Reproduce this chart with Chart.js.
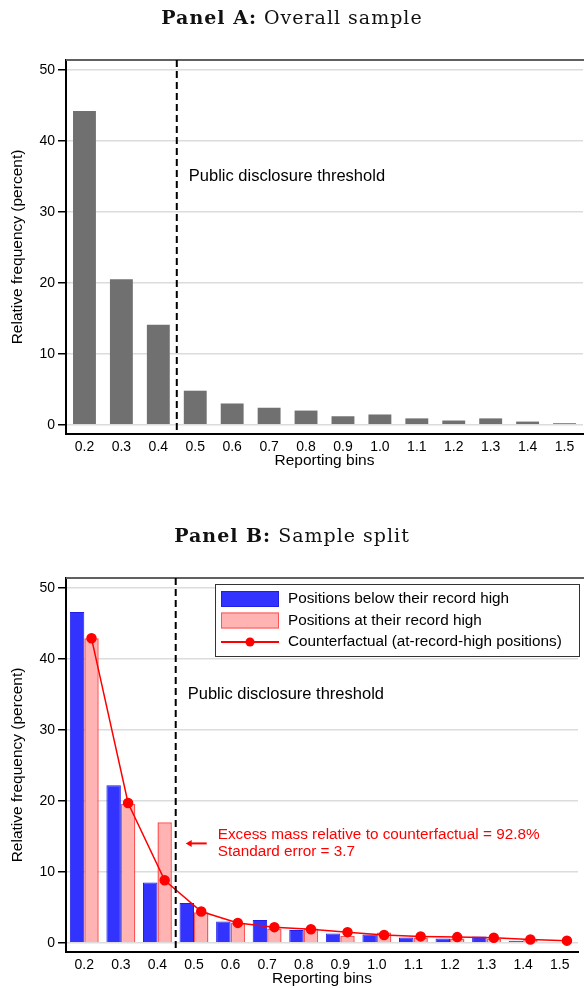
<!DOCTYPE html>
<html>
<head>
<meta charset="utf-8">
<script src="https://cdn.jsdelivr.net/npm/chart.js@4.4.0/dist/chart.umd.min.js"></script>
<style>
  body { margin: 0; background: #fff; }
  .panel { position: relative; width: 584px; height: 494px; }
  .panel .box { position: absolute; left: 0; top: 0; width: 584px; height: 494px; }
  .title {
    position: absolute; left: 0; width: 584px; text-align: center; z-index: 2;
    font-family: "DejaVu Serif", "Liberation Serif", serif; font-size: 19px; line-height: 22px;
    letter-spacing: 1px; color: #111;
  }
</style>
</head>
<body>
<div class="panel">
  <div class="title" style="top:6px"><b>Panel A:</b> Overall sample</div>
  <div class="box"><canvas id="chartA"></canvas></div>
</div>
<div class="panel">
  <div class="title" style="top:30px"><b>Panel B:</b> Sample split</div>
  <div class="box"><canvas id="chartB"></canvas></div>
</div>
<script>
/* ── data ── */
const binLabels = ["0.2", "0.3", "0.4", "0.5", "0.6", "0.7", "0.8", "0.9", "1.0", "1.1", "1.2", "1.3", "1.4", "1.5"];
const overallFreq = [44.2, 20.5, 14.1, 4.8, 3.0, 2.4, 2.0, 1.2, 1.45, 0.9, 0.6, 0.9, 0.45, 0.22];
const belowHighFreq = [46.6, 22.2, 8.5, 5.6, 3.0, 3.2, 1.8, 1.3, 1.15, 0.75, 0.6, 0.9, 0.3, 0.1];
const atHighFreq = [42.9, 19.6, 17.0, 4.3, 2.8, 2.0, 2.0, 1.0, 1.45, 0.75, 0.6, 0.55, 0.45, 0.1];
const counterfactualFreq = [42.9, 19.7, 8.8, 4.4, 2.8, 2.2, 1.9, 1.5, 1.1, 0.9, 0.8, 0.7, 0.45, 0.3];
const yTicks = [0, 10, 20, 30, 40, 50];
const thresholdAfter = "0.4"; // threshold sits between 0.4 and 0.5
const thresholdLabel = "Public disclosure threshold";
const excessNote = ["Excess mass relative to counterfactual = 92.8%", "Standard error = 3.7"];

const FONT = "'Liberation Sans', Arial, sans-serif";

/* ── plugins ── */
const thresholdPlugin = {
  id: "threshold",
  afterDatasetsDraw(chart, args, opts) {
    const { ctx, chartArea: a, scales } = chart;
    const x = scales.x, y = scales.y;
    const i = binLabels.indexOf(thresholdAfter);
    const px = (x.getPixelForValue(i) + x.getPixelForValue(i + 1)) / 2;
    ctx.save();
    // top frame
    ctx.strokeStyle = "#606060";
    ctx.lineWidth = 2;
    ctx.beginPath();
    ctx.moveTo(a.left, a.top);
    ctx.lineTo(chart.width, a.top);
    ctx.stroke();
    // dashed threshold
    ctx.strokeStyle = "#000";
    ctx.lineWidth = 2;
    ctx.setLineDash([7, 4]);
    ctx.beginPath();
    ctx.moveTo(px, a.top);
    ctx.lineTo(px, a.bottom);
    ctx.stroke();
    ctx.setLineDash([]);
    ctx.fillStyle = "#000";
    ctx.font = "16.5px " + FONT;
    ctx.textBaseline = "middle";
    ctx.fillText(thresholdLabel, px + 12, y.getPixelForValue(opts.labelY));
    if (opts.note) {
      const ay = y.getPixelForValue(opts.noteY);
      ctx.strokeStyle = "#ff0000";
      ctx.fillStyle = "#ff0000";
      ctx.lineWidth = 2;
      ctx.beginPath();
      ctx.moveTo(px + 31, ay);
      ctx.lineTo(px + 15, ay);
      ctx.stroke();
      ctx.beginPath();
      ctx.moveTo(px + 10, ay);
      ctx.lineTo(px + 16, ay - 3.5);
      ctx.lineTo(px + 16, ay + 3.5);
      ctx.closePath();
      ctx.fill();
      ctx.font = "15.3px " + FONT;
      ctx.fillText(opts.note[0], px + 42, ay - 8.5);
      ctx.fillText(opts.note[1], px + 42, ay + 8.5);
    }
    ctx.restore();
  },
};

// counterfactual points sit on the centre of the pink bar
const shiftLine = {
  id: "shiftLine",
  beforeDatasetDraw(chart, args) {
    if (chart.data.datasets[args.index].type !== "line") return;
    const pink = chart.getDatasetMeta(1).data[0];
    const dx = pink.x - chart.scales.x.getPixelForValue(0);
    chart.ctx.save();
    chart.ctx.translate(dx, 0);
  },
  afterDatasetDraw(chart, args) {
    if (chart.data.datasets[args.index].type !== "line") return;
    chart.ctx.restore();
  },
};

const boxLegend = {
  id: "boxLegend",
  afterDraw(chart) {
    const { ctx, chartArea: a } = chart;
    const right = a.right + 1, left = right - 364, top = a.top + 6;
    ctx.save();
    ctx.fillStyle = "#fff";
    ctx.fillRect(left, top, 364, 72);
    ctx.strokeStyle = "#333";
    ctx.lineWidth = 1;
    ctx.strokeRect(left + 0.5, top + 0.5, 364, 72);
    chart.data.datasets.forEach((ds, k) => {
      const ry = top + 15 + k * 21.5;
      if (ds.type === "line") {
        ctx.strokeStyle = ds.borderColor;
        ctx.lineWidth = 2;
        ctx.beginPath();
        ctx.moveTo(left + 6, ry);
        ctx.lineTo(left + 64, ry);
        ctx.stroke();
        ctx.fillStyle = ds.pointBackgroundColor;
        ctx.beginPath();
        ctx.arc(left + 35, ry, 4.5, 0, Math.PI * 2);
        ctx.fill();
      } else {
        ctx.fillStyle = ds.backgroundColor;
        ctx.fillRect(left + 6, ry - 8, 58, 16);
        ctx.strokeStyle = ds.borderColor;
        ctx.lineWidth = 1;
        ctx.strokeRect(left + 6.5, ry - 7.5, 57, 15);
      }
      ctx.fillStyle = "#000";
      ctx.font = "15.3px " + FONT;
      ctx.textBaseline = "middle";
      ctx.fillText(ds.label, left + 73, ry);
    });
    ctx.restore();
  },
};

function axes() {
  return {
    x: {
      type: "category",
      labels: binLabels,
      grid: { display: false, drawTicks: false },
      border: { display: true, color: "#000", width: 2 },
      ticks: { color: "#000", font: { family: FONT, size: 14 }, padding: 5, autoSkip: false, maxRotation: 0 },
      title: { display: true, text: "Reporting bins", color: "#000", font: { family: FONT, size: 15.5 }, padding: { top: 0, bottom: 0 } },
      afterFit: (s) => { s.height = 36; },
    },
    y: {
      min: -1.3,
      max: 51.4,
      afterBuildTicks: (s) => { s.ticks = yTicks.map((v) => ({ value: v })); },
      grid: { color: "#dcdcdc", lineWidth: 1.5, tickColor: "#000", tickLength: 8, tickWidth: 1.5 },
      border: { display: true, color: "#000", width: 2 },
      ticks: { color: "#000", font: { family: FONT, size: 14 }, padding: 3, callback: (v) => String(v) },
      title: { display: true, text: "Relative frequency (percent)", color: "#000", font: { family: FONT, size: 15.5 }, padding: { top: 8, bottom: 0 } },
      afterFit: (s) => { s.width = 66; },
    },
  };
}

/* ── Panel A ── */
new Chart(document.getElementById("chartA"), {
  type: "bar",
  data: {
    labels: binLabels,
    datasets: [{
      label: "Overall sample",
      data: overallFreq,
      backgroundColor: "#707070",
      borderWidth: 0,
      barPercentage: 0.62,
      categoryPercentage: 1,
    }],
  },
  options: {
    responsive: true,
    maintainAspectRatio: false,
    animation: false,
    layout: { padding: { top: 60, right: 1, bottom: 24, left: 0 } },
    plugins: { legend: { display: false }, tooltip: { enabled: false }, threshold: { labelY: 35 } },
    scales: axes(),
  },
  plugins: [thresholdPlugin],
});

/* ── Panel B ── */
new Chart(document.getElementById("chartB"), {
  type: "bar",
  data: {
    labels: binLabels,
    datasets: [
      {
        label: "Positions below their record high",
        data: belowHighFreq,
        backgroundColor: "#3333ff",
        borderColor: "#1f1fe6",
        borderWidth: 1,
        barPercentage: 1,
        categoryPercentage: 0.79,
        order: 1,
      },
      {
        label: "Positions at their record high",
        data: atHighFreq,
        backgroundColor: "#ffb3b3",
        borderColor: "#ff5555",
        borderWidth: 1.5,
        barPercentage: 1,
        categoryPercentage: 0.79,
        order: 1,
      },
      {
        type: "line",
        label: "Counterfactual (at-record-high positions)",
        data: counterfactualFreq,
        borderColor: "#ff0000",
        borderWidth: 1.5,
        pointBackgroundColor: "#ff0000",
        pointBorderColor: "#ff0000",
        pointRadius: 4.5,
        tension: 0,
        order: 0,
      },
    ],
  },
  options: {
    responsive: true,
    maintainAspectRatio: false,
    animation: false,
    layout: { padding: { top: 84, right: 1, bottom: 0, left: 0 } },
    plugins: {
      legend: { display: false },
      tooltip: { enabled: false },
      threshold: { labelY: 35, noteY: 14, note: excessNote },
    },
    scales: axes(),
  },
  plugins: [thresholdPlugin, shiftLine, boxLegend],
});
</script>
</body>
</html>
